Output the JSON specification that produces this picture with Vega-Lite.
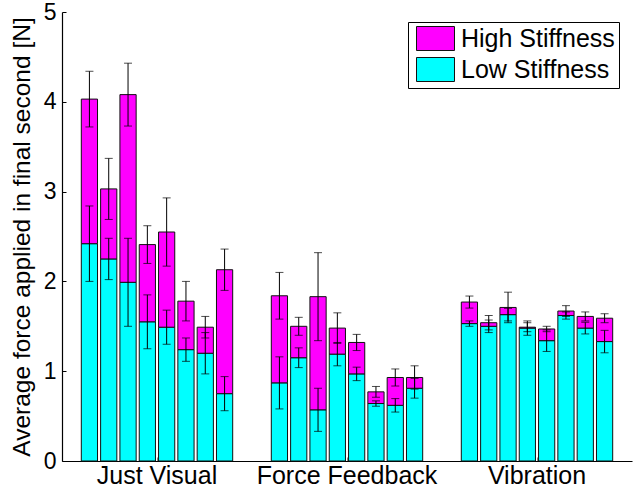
{
  "$schema": "https://vega.github.io/schema/vega-lite/v6.json",
  "width": 570,
  "height": 449,
  "autosize": "none",
  "padding": {"left": 62, "top": 12, "right": 2, "bottom": 33},
  "background": "white",
  "config": {
    "view": {"stroke": null},
    "font": "Liberation Sans",
    "axis": {"domainColor": "black", "tickColor": "black", "labelColor": "black", "titleColor": "black", "grid": false, "labelFont": "Liberation Sans", "titleFont": "Liberation Sans"},
    "legend": {"labelFont": "Liberation Sans"}
  },
  "data": {"values": [
    {"group": "Just Visual", "bar": 1, "low": 2.42, "lowErr": 0.42, "total": 4.03, "totErr": 0.31},
    {"group": "Just Visual", "bar": 2, "low": 2.25, "lowErr": 0.23, "total": 3.03, "totErr": 0.34},
    {"group": "Just Visual", "bar": 3, "low": 1.99, "lowErr": 0.49, "total": 4.08, "totErr": 0.35},
    {"group": "Just Visual", "bar": 4, "low": 1.55, "lowErr": 0.30, "total": 2.41, "totErr": 0.21},
    {"group": "Just Visual", "bar": 5, "low": 1.49, "lowErr": 0.19, "total": 2.55, "totErr": 0.38},
    {"group": "Just Visual", "bar": 6, "low": 1.24, "lowErr": 0.13, "total": 1.78, "totErr": 0.22},
    {"group": "Just Visual", "bar": 7, "low": 1.20, "lowErr": 0.23, "total": 1.49, "totErr": 0.12},
    {"group": "Just Visual", "bar": 8, "low": 0.75, "lowErr": 0.19, "total": 2.13, "totErr": 0.23},
    {"group": "Force Feedback", "bar": 1, "low": 0.87, "lowErr": 0.29, "total": 1.84, "totErr": 0.26},
    {"group": "Force Feedback", "bar": 2, "low": 1.15, "lowErr": 0.11, "total": 1.50, "totErr": 0.10},
    {"group": "Force Feedback", "bar": 3, "low": 0.57, "lowErr": 0.24, "total": 1.83, "totErr": 0.49},
    {"group": "Force Feedback", "bar": 4, "low": 1.19, "lowErr": 0.13, "total": 1.48, "totErr": 0.17},
    {"group": "Force Feedback", "bar": 5, "low": 0.97, "lowErr": 0.075, "total": 1.32, "totErr": 0.09},
    {"group": "Force Feedback", "bar": 6, "low": 0.64, "lowErr": 0.03, "total": 0.77, "totErr": 0.06},
    {"group": "Force Feedback", "bar": 7, "low": 0.62, "lowErr": 0.075, "total": 0.93, "totErr": 0.095},
    {"group": "Force Feedback", "bar": 8, "low": 0.81, "lowErr": 0.11, "total": 0.93, "totErr": 0.13},
    {"group": "Vibration", "bar": 1, "low": 1.53, "lowErr": 0.03, "total": 1.77, "totErr": 0.067},
    {"group": "Vibration", "bar": 2, "low": 1.50, "lowErr": 0.07, "total": 1.54, "totErr": 0.08},
    {"group": "Vibration", "bar": 3, "low": 1.63, "lowErr": 0.07, "total": 1.71, "totErr": 0.17},
    {"group": "Vibration", "bar": 4, "low": 1.48, "lowErr": 0.08, "total": 1.49, "totErr": 0.05},
    {"group": "Vibration", "bar": 5, "low": 1.34, "lowErr": 0.12, "total": 1.47, "totErr": 0.03},
    {"group": "Vibration", "bar": 6, "low": 1.62, "lowErr": 0.04, "total": 1.67, "totErr": 0.06},
    {"group": "Vibration", "bar": 7, "low": 1.48, "lowErr": 0.065, "total": 1.61, "totErr": 0.05},
    {"group": "Vibration", "bar": 8, "low": 1.33, "lowErr": 0.125, "total": 1.59, "totErr": 0.05}
  ]},
  "encoding": {
    "x": {
      "field": "group", "type": "nominal",
      "scale": {"domain": ["Just Visual", "Force Feedback", "Vibration"], "paddingInner": 0, "paddingOuter": 0},
      "axis": {"title": null, "labelAngle": 0, "labelFontSize": 25, "labelLimit": 400, "labelPadding": 6, "tickSize": -4, "tickColor": "#888", "domainWidth": 1.2}
    },
    "xOffset": {
      "field": "bar", "type": "ordinal",
      "scale": {"paddingInner": 0.16, "paddingOuter": 1.08}
    }
  },
  "layer": [
    {
      "mark": {"type": "bar", "stroke": "#111", "strokeWidth": 1, "opacity": 1},
      "encoding": {
        "y": {
          "field": "low", "type": "quantitative",
          "title": "Average force applied in final second [N]",
          "scale": {"domain": [0, 5], "nice": false},
          "axis": {"titleFontSize": 24.5, "titleFontWeight": "normal", "titlePadding": 9, "labelFontSize": 23, "values": [0, 1, 2, 3, 4, 5], "format": "d", "tickSize": -4, "labelPadding": 10, "domainWidth": 1.2}
        },
        "color": {
          "datum": "Low Stiffness",
          "scale": {"domain": ["High Stiffness", "Low Stiffness"], "range": ["#ff00ff", "#00ffff"]},
          "legend": {
            "title": null, "orient": "none", "legendX": 346, "legendY": 10,
            "strokeColor": "black", "fillColor": "white", "padding": 4,
            "labelFontSize": 25, "labelColor": "black", "labelOffset": 13,
            "symbolType": "M-1.583,-1H1.583V1H-1.583Z", "symbolSize": 576, "symbolOffset": 11,
            "symbolStrokeColor": "black", "symbolStrokeWidth": 1, "symbolOpacity": 1,
            "rowPadding": 2
          }
        }
      }
    },
    {
      "mark": {"type": "bar", "stroke": "#111", "strokeWidth": 1, "opacity": 1},
      "encoding": {
        "y": {"field": "low", "type": "quantitative", "title": "Average force applied in final second [N]"},
        "y2": {"field": "total"},
        "color": {"datum": "High Stiffness"}
      }
    },
    {
      "mark": {"type": "errorbar", "ticks": {"size": 8, "color": "black"}, "color": "black", "thickness": 1},
      "encoding": {
        "y": {"field": "low", "type": "quantitative", "title": "Average force applied in final second [N]"},
        "yError": {"field": "lowErr"}
      }
    },
    {
      "mark": {"type": "errorbar", "ticks": {"size": 8, "color": "black"}, "color": "black", "thickness": 1},
      "encoding": {
        "y": {"field": "total", "type": "quantitative", "title": "Average force applied in final second [N]"},
        "yError": {"field": "totErr"}
      }
    }
  ]
}
